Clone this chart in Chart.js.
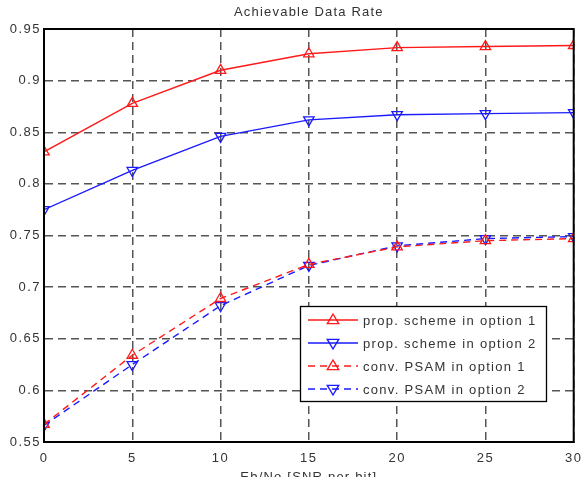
<!DOCTYPE html>
<html><head><meta charset="utf-8">
<script src="https://cdn.jsdelivr.net/npm/chart.js@4/dist/chart.umd.min.js"></script>
<style>html,body{margin:0;padding:0;background:#fff}#wrap{width:581px;height:477px}</style>
</head><body><div id="wrap"><canvas id="c" width="581" height="477"></canvas></div>
<script>
const snr = [0, 5, 10, 15, 20, 25, 30];
const propOpt1 = [0.831, 0.878, 0.910, 0.926, 0.932, 0.933, 0.934];
const propOpt2 = [0.775, 0.813, 0.846, 0.862, 0.867, 0.868, 0.869];
const convOpt1 = [0.567, 0.634, 0.689, 0.722, 0.739, 0.745, 0.747];
const convOpt2 = [0.566, 0.625, 0.682, 0.721, 0.740, 0.747, 0.749];
const seriesNames = ['prop. scheme in option 1','prop. scheme in option 2','conv. PSAM in option 1','conv. PSAM in option 2'];
const xTicks = [0,5,10,15,20,25,30];
const yTicks = [0.55,0.6,0.65,0.7,0.75,0.8,0.85,0.9,0.95];
const titleText = 'Achievable Data Rate';
const xLabel = 'Eb/No [SNR per bit]';

const FONT = '"Liberation Sans", Arial, sans-serif';
const pts = arr => arr.map((v,i)=>({x:snr[i], y:v}));
function ds(label, data, color, dashed, down){
  return {label, data: pts(data), borderColor: color, backgroundColor: 'rgba(0,0,0,0)',
    borderWidth: 1.4, borderDash: dashed ? [7,5] : [], pointStyle: 'triangle',
    rotation: down ? 180 : 0, pointRadius: 6, pointBorderWidth: 1.3,
    pointBorderColor: color, pointBackgroundColor: 'rgba(0,0,0,0)', tension: 0, _down: down, _dashed: dashed};
}
const datasets = [
  ds(seriesNames[0], propOpt1, '#ff1a1a', false, false),
  ds(seriesNames[1], propOpt2, '#1a1aff', false, true),
  ds(seriesNames[2], convOpt1, '#ff1a1a', true, false),
  ds(seriesNames[3], convOpt2, '#1a1aff', true, true)
];

function tri(ctx, x, y, r, down){
  ctx.beginPath();
  const s = down ? -1 : 1;
  ctx.moveTo(x, y - s*r);
  ctx.lineTo(x - r*0.95, y + s*r*0.6);
  ctx.lineTo(x + r*0.95, y + s*r*0.6);
  ctx.closePath();
  ctx.stroke();
}

const extras = {
  id: 'extras',
  beforeDraw(chart){ chart.ctx.letterSpacing = '1.5px'; },
  afterDraw(chart){
    const ctx = chart.ctx, a = chart.chartArea;
    ctx.save();
    ctx.strokeStyle = '#000'; ctx.lineWidth = 2; ctx.setLineDash([]);
    ctx.strokeRect(a.left, a.top, a.right - a.left, a.bottom - a.top);
    ctx.fillStyle = '#333'; ctx.font = '13px ' + FONT; ctx.textAlign = 'center'; ctx.textBaseline = 'middle';
    ctx.letterSpacing = '1.2px';
    ctx.fillText(titleText, (a.left + a.right)/2, 12);
    ctx.fillText(xLabel, (a.left + a.right)/2, 477);
    // legend
    const lx = 300, ly = 306, lw = 246, lh = 95;
    ctx.fillStyle = '#fff'; ctx.fillRect(lx, ly, lw, lh);
    ctx.strokeStyle = '#000'; ctx.lineWidth = 1.3; ctx.strokeRect(lx+0.5, ly+0.5, lw, lh);
    const rows = [320, 343, 366, 389];
    ctx.font = '13px ' + FONT; ctx.textAlign = 'left'; ctx.letterSpacing = '1.3px';
    datasets.forEach((d, i) => {
      const y = rows[i];
      ctx.strokeStyle = d.borderColor; ctx.lineWidth = 1.4;
      ctx.setLineDash(d._dashed ? [7,5] : []);
      ctx.beginPath(); ctx.moveTo(308, y); ctx.lineTo(358, y); ctx.stroke();
      ctx.setLineDash([]);
      tri(ctx, 333, y, 6, d._down);
      ctx.fillStyle = '#333';
      ctx.fillText(d.label, 363, y + 1);
    });
    ctx.restore();
  }
};

new Chart(document.getElementById('c'), {
  type: 'line',
  data: { datasets },
  plugins: [extras],
  options: {
    responsive: false, animation: false, devicePixelRatio: 1,
    layout: { padding: { top: 29, right: 7, left: 0, bottom: 0 } },
    plugins: { legend: { display: false }, title: { display: false }, tooltip: { enabled: false } },
    scales: {
      x: { type: 'linear', min: 0, max: 30,
        afterBuildTicks: s => { s.ticks = xTicks.map(v => ({value: v})); },
        afterFit: s => { s.height = 35; s.paddingLeft = 0; s.paddingRight = 0; },
        grid: { color: '#555', lineWidth: 1.5, drawTicks: false },
        border: { display: true, color: '#000', width: 2, dash: [8,5] },
        ticks: { color: '#333', font: { size: 13, family: FONT }, padding: 9, maxRotation: 0 }
      },
      y: { type: 'linear', min: 0.55, max: 0.95,
        afterBuildTicks: s => { s.ticks = yTicks.map(v => ({value: v})); },
        afterFit: s => { s.width = 44; s.paddingTop = 0; s.paddingBottom = 0; },
        grid: { color: '#555', lineWidth: 1.5, drawTicks: false },
        border: { display: true, color: '#000', width: 2, dash: [8,5] },
        ticks: { color: '#333', font: { size: 13, family: FONT }, padding: 3,
          callback: v => String(Number(v.toFixed(2))) }
      }
    }
  }
});
</script></body></html>
